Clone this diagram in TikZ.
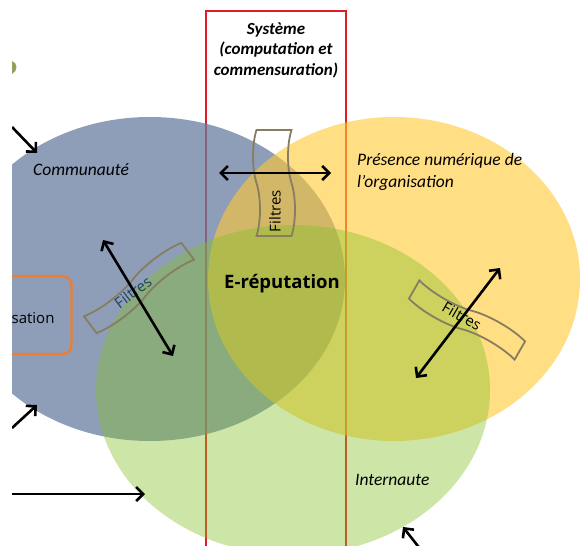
\documentclass[tikz,border=0pt]{standalone}
\usepackage{fontspec}
\setmainfont{Carlito}
\newfontfamily\opensans{Open Sans}
\usetikzlibrary{shapes.geometric,shapes.symbols,arrows.meta,positioning}
\definecolor{commblue}{RGB}{104,125,160}
\definecolor{presyellow}{RGB}{255,200,50}
\definecolor{intgreen}{RGB}{130,192,37}
\definecolor{sysred}{RGB}{226,28,38}
\definecolor{filterline}{RGB}{135,125,95}
\definecolor{orgorange}{RGB}{237,125,49}
\definecolor{filtblue}{RGB}{35,65,95}
\definecolor{markolive}{RGB}{150,160,90}
\tikzstyle{zone}=[ellipse,inner sep=0pt,draw=none]
\tikzstyle{filter}=[tape,draw=filterline,line width=1.8pt,inner sep=0pt,
  tape bend height=7pt]
\tikzstyle{filtertxt}=[font=\opensans\fontsize{15}{17}\selectfont,inner sep=0pt]
\tikzstyle{lbl}=[font=\itshape\fontsize{17.5}{22}\selectfont,align=left,inner sep=0pt]
\tikzstyle{arr}=[line width=2.6pt]

\begin{document}
\begin{tikzpicture}[>={Straight Barb[length=7pt,width=14pt]}, x=1pt, y=-1pt]
  \useasboundingbox (0,0) rectangle (581,546);
  \clip (12,0) rectangle (581,546);

  \node[draw=sysred, line width=1.6pt, minimum width=140pt, minimum height=560pt,
    anchor=north] (sys) at (276,10) {};

  \node[zone, fill=commblue, fill opacity=.75, minimum width=390pt,
    minimum height=324pt] (comm) at (150,279) {};
  \node[zone, fill=presyellow, fill opacity=.6, minimum width=372pt,
    minimum height=324pt] (pres) at (394,279) {};
  \node[zone, fill=intgreen, fill opacity=.4, minimum width=394pt,
    minimum height=330pt] (inter) at (293,390) {};

  \node[font=\bfseries\itshape\fontsize{17}{20.5}\selectfont, align=center,
    below=9pt of sys.north] (systxt) {Système\\(computation et\\commensuration)};
  \node[lbl, anchor=west] (commtxt) at (33,170) {Communauté};
  \node[lbl, anchor=north west] (prestxt) at (357,153) {Présence numérique de\\l’organisation};
  \node[lbl, anchor=west] (inttxt) at (355,480) {Internaute};
  \node[font=\opensans\bfseries\fontsize{18.5}{20}\selectfont] (erep) at (282,284) {E-réputation};

  \node[draw=orgorange, line width=2.4pt, rounded corners=9pt, minimum width=95pt,
    minimum height=78pt] (org) at (24,315) {};
  \node[font=\opensans\fontsize{15}{17}\selectfont, anchor=east] (orgtxt) at (58,318) {sation};

  \node[filter, minimum width=106pt, minimum height=42pt, rotate=90] (f1) at (274,183) {};
  \node[filtertxt, rotate=90] (f1txt) at (275,211) {Filtres};
  \node[filter, minimum width=122pt, minimum height=28pt, rotate=37] (f2) at (139,288) {};
  \node[filtertxt, rotate=37, text=filtblue] (f2txt) at (133,292) {Filtres};
  \node[filter, minimum width=122pt, minimum height=28pt, rotate=-30] (f3) at (467,320) {};
  \node[filtertxt, rotate=-30] (f3txt) at (462,316) {Filtres};

  \fill[markolive] (12,61) .. controls (18,63) and (18,71) .. (12,74) -- cycle;

  \coordinate (a1s) at (12,127);
  \coordinate (a1e) at (37,153);
  \coordinate (a2s) at (12,428);
  \coordinate (a2e) at (37,405);
  \coordinate (a3s) at (12,494);
  \coordinate (a3e) at (145,494);
  \coordinate (a4s) at (421,550);
  \coordinate (a4e) at (403,527);
  \coordinate (d1a) at (219,173);
  \coordinate (d1b) at (331,173);
  \coordinate (d2a) at (103,240);
  \coordinate (d2b) at (173,356);
  \coordinate (d3a) at (500,268);
  \coordinate (d3b) at (416,378);

  \draw[arr, ->] (a1s) -- (a1e);
  \draw[arr, ->] (a2s) -- (a2e);
  \draw[arr, ->] (a3s) -- (a3e);
  \draw[arr, ->] (a4s) -- (a4e);
  \draw[arr, <->] (d1a) -- (d1b);
  \draw[arr, <->] (d2a) -- (d2b);
  \draw[arr, <->] (d3a) -- (d3b);
\end{tikzpicture}
\end{document}
